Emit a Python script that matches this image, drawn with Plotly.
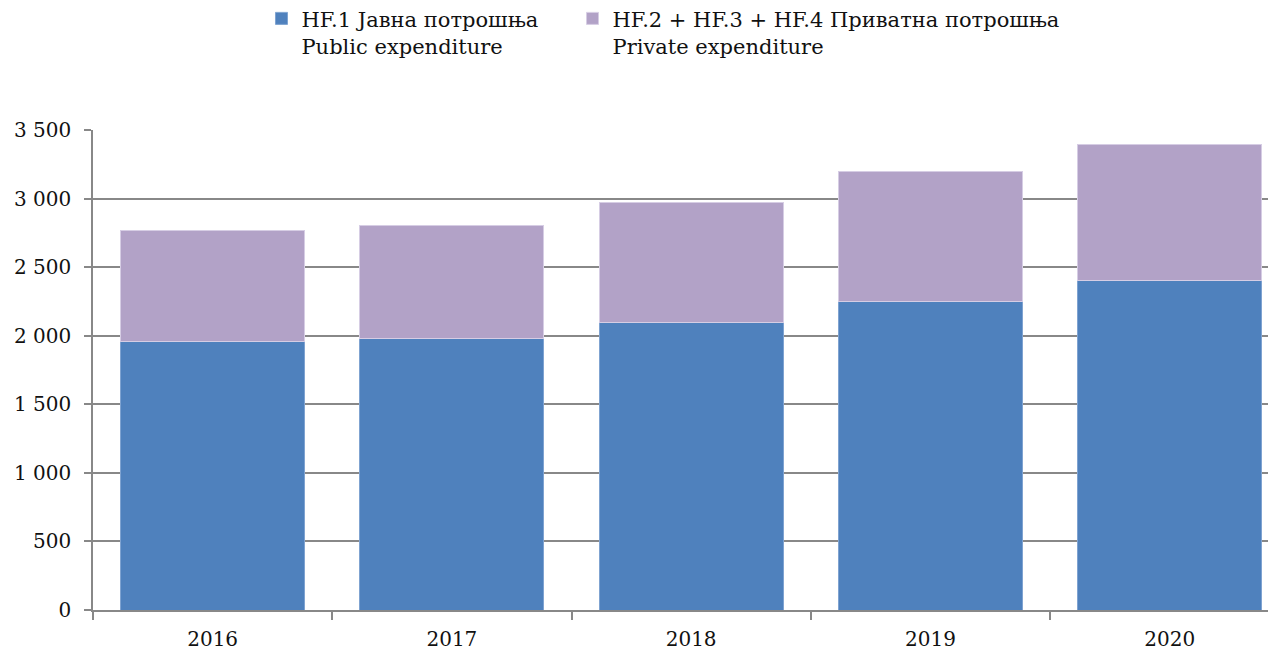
import plotly.graph_objects as go

years = ["2016", "2017", "2018", "2019", "2020"]
public = [1961, 1983, 2093, 2246, 2399]
private = [803, 824, 882, 955, 992]

name_public = "HF.1 Јавна потрошња<br>Public expenditure"
name_private = "HF.2 + HF.3 + HF.4 Приватна потрошња<br>Private expenditure"

FONT = "DejaVu Serif"

fig = go.Figure()
fig.add_trace(go.Bar(x=years, y=public, name=name_public, legend="legend",
                     marker=dict(color="#4F81BD", line=dict(color="#7FA3D1", width=1))))
fig.add_trace(go.Bar(x=years, y=private, name=name_private, legend="legend2",
                     marker=dict(color="#B2A2C7", line=dict(color="#D6CDE4", width=1))))

leg_common = dict(orientation="h", yanchor="top", y=1.2745, xanchor="left",
                  font=dict(family=FONT, size=21, color="#111111"),
                  valign="top", itemclick=False, itemdoubleclick=False,
                  bgcolor="rgba(0,0,0,0)")

# the page body has an 8px margin, so the figure is sized to fit the window
fig.update_layout(
    barmode="stack",
    bargap=0.231,
    width=1272, height=644,
    margin=dict(l=85, r=12, t=122, b=42, autoexpand=False),
    plot_bgcolor="white", paper_bgcolor="white",
    separators=". ",
    font=dict(family=FONT, size=20, color="#111111"),
    showlegend=True,
    legend=dict(x=0.1434, **leg_common),
    legend2=dict(x=0.4081, **leg_common),
    xaxis=dict(range=[-0.5, 4.411],
               showline=True, linecolor="#888888", linewidth=1.5,
               ticks="outside", ticklen=8, tickcolor="#888888", tickwidth=1.5,
               tickson="boundaries", showgrid=False, ticklabelstandoff=10,
               tickfont=dict(family=FONT, size=20, color="#111111")),
    yaxis=dict(range=[0, 3500], dtick=500, tickformat=",d",
               showline=True, linecolor="#888888", linewidth=1.5,
               ticks="outside", ticklen=7, tickcolor="#888888", tickwidth=1.5,
               showgrid=True, gridcolor="#888888", gridwidth=1.5,
               zeroline=False, ticklabelstandoff=9,
               tickfont=dict(family=FONT, size=20, color="#111111")),
)

fig.write_html("out.html")
